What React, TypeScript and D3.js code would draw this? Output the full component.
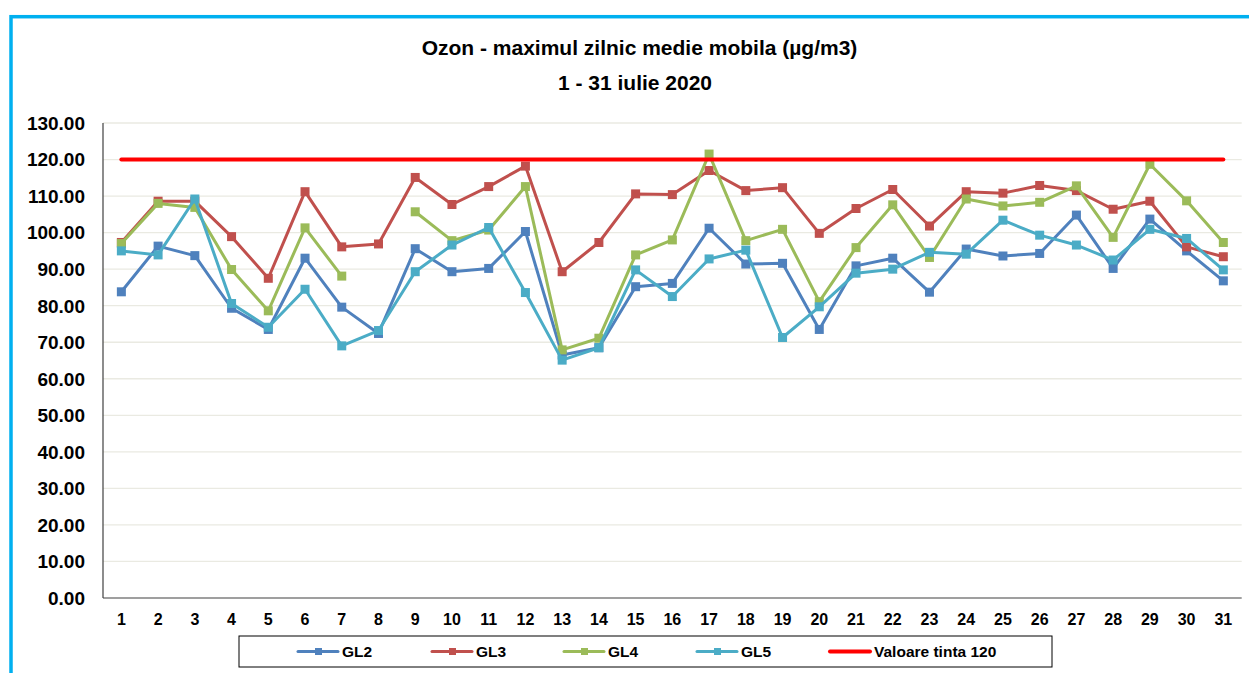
import React, { useEffect, useRef } from 'react';
import * as d3 from 'd3';

const days = d3.range(1, 32).map(String);

const gl2 = [83.8, 96.3, 93.7, 79.3, 73.5, 93.0, 79.6, 72.4, 95.6, 89.3, 90.2, 100.3, 66.5, 68.5, 85.2, 86.1,
  101.2, 91.4, 91.6, 73.5, 90.9, 93.0, 83.7, 95.5, 93.6, 94.3, 104.8, 90.2, 103.7, 95.0, 86.8];
const gl3 = [97.3, 108.6, 108.6, 98.9, 87.5, 111.2, 96.1, 96.9, 115.1, 107.7, 112.6, 118.2, 89.3, 97.3, 110.6, 110.4,
  117.0, 111.5, 112.3, 99.8, 106.6, 111.8, 101.8, 111.2, 110.8, 112.9, 111.5, 106.4, 108.6, 96.1, 93.4];
const gl4: (number | null)[] = [97.0, 108.0, 106.9, 89.9, 78.6, 101.3, 88.1, null, 105.7, 97.8, 100.7, 112.6, 67.9, 71.1, 93.9, 98.0,
  121.5, 97.8, 100.9, 81.1, 95.9, 107.6, 93.2, 109.2, 107.3, 108.3, 112.8, 98.7, 118.7, 108.7, 97.3];
const gl5 = [95.0, 93.9, 109.2, 80.6, 74.1, 84.5, 69.0, 73.2, 89.3, 96.6, 101.4, 83.6, 65.1, 68.5, 89.8, 82.5,
  92.8, 95.2, 71.3, 79.7, 88.9, 90.0, 94.6, 94.1, 103.4, 99.3, 96.6, 92.5, 100.9, 98.4, 89.8];
const target = 120;

const yTicks = d3.range(0, 131, 10);

const series = [
  { name: 'GL2', color: '#4F81BD', values: gl2 as (number | null)[] },
  { name: 'GL3', color: '#C0504D', values: gl3 as (number | null)[] },
  { name: 'GL4', color: '#9BBB59', values: gl4 },
  { name: 'GL5', color: '#4BACC6', values: gl5 as (number | null)[] },
];

const W = 1249;
const H = 673;
const FONT = '"Liberation Sans", Arial, sans-serif';

const App: React.FC = () => {
  const svgRef = useRef<SVGSVGElement>(null);

  useEffect(() => {
    if (!svgRef.current) return;
    const svg = d3.select(svgRef.current);
    svg.selectAll('*').remove();

    const left = 103, right = 1241.7, top = 123, bottom = 598;

    const x = d3.scaleBand().domain(days).range([left, right]).padding(0);
    const cx = (d: string) => (x(d) || 0) + x.bandwidth() / 2;
    const y = d3.scaleLinear().domain([0, 130]).range([bottom, top]);

    // outer frame
    svg.append('rect')
      .attr('x', 11).attr('y', 16.7)
      .attr('width', W + 20).attr('height', H + 20)
      .attr('fill', 'none')
      .attr('stroke', '#00B0F0')
      .attr('stroke-width', 3.5);

    // title
    const title = svg.append('g')
      .attr('font-family', FONT)
      .attr('font-weight', 'bold')
      .attr('font-size', 21)
      .attr('text-anchor', 'middle')
      .attr('fill', '#000');
    title.append('text').attr('x', 639.5).attr('y', 55).text('Ozon - maximul zilnic medie mobila (µg/m3)');
    title.append('text').attr('x', 635).attr('y', 90).text('1 - 31 iulie 2020');

    // gridlines
    svg.append('g')
      .selectAll('line')
      .data(yTicks.filter(t => t > 0))
      .join('line')
      .attr('x1', left).attr('x2', right)
      .attr('y1', d => y(d)).attr('y2', d => y(d))
      .attr('stroke', '#EAEAE2')
      .attr('stroke-width', 1.3);

    // axes
    svg.append('line')
      .attr('x1', left).attr('x2', left).attr('y1', top).attr('y2', bottom)
      .attr('stroke', '#404040').attr('stroke-width', 1.2);
    svg.append('line')
      .attr('x1', left).attr('x2', right).attr('y1', bottom).attr('y2', bottom)
      .attr('stroke', '#404040').attr('stroke-width', 1.2);

    svg.append('g')
      .attr('font-family', FONT).attr('font-weight', 'bold').attr('font-size', 19)
      .attr('text-anchor', 'end')
      .selectAll('text')
      .data(yTicks)
      .join('text')
      .attr('x', 85)
      .attr('y', d => y(d))
      .attr('dy', '0.36em')
      .text(d => d.toFixed(2));

    svg.append('g')
      .attr('font-family', FONT).attr('font-weight', 'bold').attr('font-size', 16)
      .attr('text-anchor', 'middle')
      .selectAll('text')
      .data(days)
      .join('text')
      .attr('x', d => cx(d))
      .attr('y', 625)
      .text(d => d);

    // series
    series.forEach(s => {
      const line = d3.line<number | null>()
        .defined(v => v !== null)
        .x((_, i) => cx(days[i]))
        .y(v => y(v as number));
      svg.append('path')
        .datum(s.values)
        .attr('d', line)
        .attr('fill', 'none')
        .attr('stroke', s.color)
        .attr('stroke-width', 3)
        .attr('stroke-linejoin', 'round');
      svg.append('g')
        .selectAll('rect')
        .data(s.values.map((v, i) => ({ v, d: days[i] })).filter(p => p.v !== null))
        .join('rect')
        .attr('x', p => cx(p.d) - 4.5)
        .attr('y', p => y(p.v as number) - 4.5)
        .attr('width', 9).attr('height', 9)
        .attr('fill', s.color);
    });

    // target line
    svg.append('line')
      .attr('x1', cx(days[0])).attr('x2', cx(days[days.length - 1]))
      .attr('y1', y(target)).attr('y2', y(target))
      .attr('stroke', '#FF0000')
      .attr('stroke-width', 4)
      .attr('stroke-linecap', 'round');

    // legend
    const lg = svg.append('g').attr('font-family', FONT).attr('font-weight', 'bold').attr('font-size', 15.5);
    lg.append('rect')
      .attr('x', 239).attr('y', 636).attr('width', 813).attr('height', 31)
      .attr('fill', '#fff').attr('stroke', '#000').attr('stroke-width', 1);
    const items = [
      ...series.map(s => ({ name: s.name, color: s.color, marker: true })),
      { name: 'Valoare tinta 120', color: '#FF0000', marker: false },
    ];
    const itemX = [298, 432, 564, 697, 830];
    items.forEach((it, i) => {
      const x0 = itemX[i];
      const ly = 651.5;
      lg.append('line')
        .attr('x1', x0).attr('x2', x0 + 40).attr('y1', ly).attr('y2', ly)
        .attr('stroke', it.color).attr('stroke-width', it.marker ? 3 : 4)
        .attr('stroke-linecap', 'round');
      if (it.marker) {
        lg.append('rect')
          .attr('x', x0 + 17).attr('y', ly - 3.5).attr('width', 7).attr('height', 7)
          .attr('fill', it.color);
      }
      lg.append('text')
        .attr('x', x0 + 44).attr('y', 657)
        .text(it.name);
    });
  }, []);

  return (
    <div style={{ position: 'absolute', left: 0, top: 0, width: W, height: H, background: '#fff' }}>
      <svg ref={svgRef} width={W} height={H} style={{ display: 'block' }}></svg>
    </div>
  );
};

export default App;
